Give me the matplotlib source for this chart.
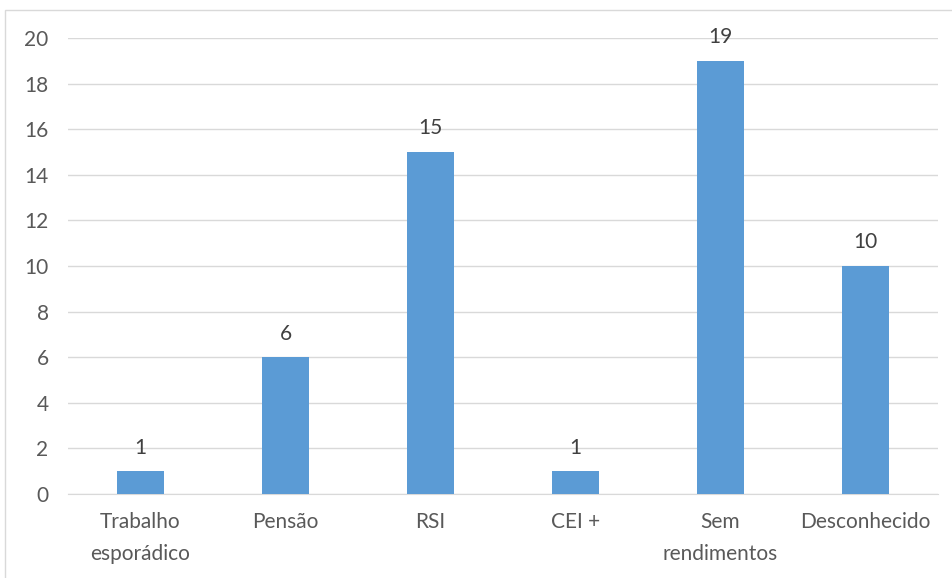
import matplotlib.pyplot as plt
from matplotlib.patches import Rectangle

categories = ["Trabalho\nesporádico", "Pensão", "RSI", "CEI +", "Sem\nrendimentos", "Desconhecido"]
values = [1, 6, 15, 1, 19, 10]
yticks = [0, 2, 4, 6, 8, 10, 12, 14, 16, 18, 20]

plt.rcParams['font.family'] = ['Lato', 'DejaVu Sans']
txt = '#595959'

fig = plt.figure(figsize=(9.53, 5.78), dpi=100)
ax = fig.add_axes([68/953, 1 - 494/578, 870/953, 456/578])

x = range(len(categories))
ax.bar(x, values, width=0.32, color='#5B9BD5', zorder=3)
for i, v in zip(x, values):
    ax.text(i, v + 0.6, str(v), ha='center', va='bottom', fontsize=15, color='#404040')

ax.set_xlim(-0.5, len(categories) - 0.5)
ax.set_ylim(0, 20)
ax.set_yticks(yticks)
ax.set_xticks(list(x))
ax.set_xticklabels(categories, fontsize=15, color=txt, linespacing=1.75)
ax.tick_params(axis='y', labelsize=15, colors=txt, length=0, pad=14)
ax.tick_params(axis='x', length=0, pad=13)
ax.yaxis.grid(True, color='#D9D9D9', linewidth=1, zorder=0)
for s in ['top', 'right', 'left']:
    ax.spines[s].set_visible(False)
ax.spines['bottom'].set_color('#D9D9D9')

# chart border (partly outside the image)
fig.add_artist(Rectangle((5/953, -0.05), 1.0, 1 - 10/578 + 0.05, transform=fig.transFigure,
                         fill=False, edgecolor='#D9D9D9', linewidth=1))

fig.savefig('out.png', dpi=100)
